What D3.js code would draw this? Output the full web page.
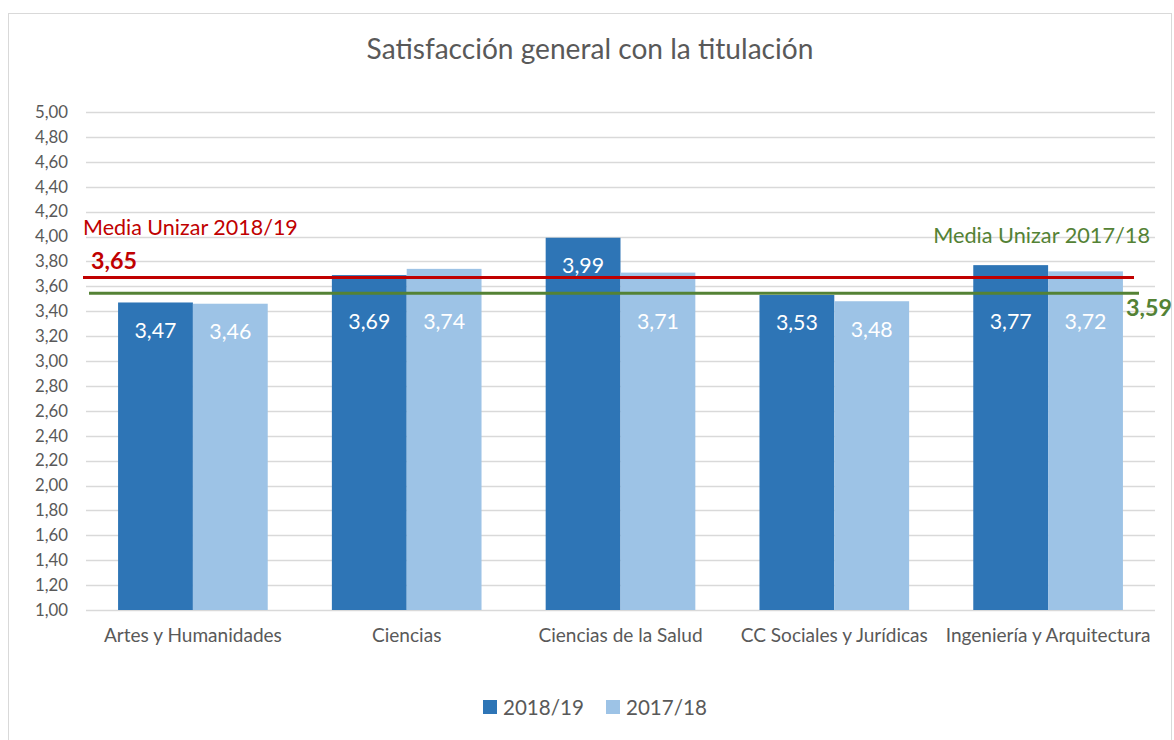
<!DOCTYPE html>
<html>
<head>
<meta charset="utf-8">
<script src="https://cdn.jsdelivr.net/npm/d3@7"></script>
<style>
  body{margin:0;background:#fff}
  text{font-family:Lato, "Open Sans", sans-serif}
</style>
</head>
<body>
<div id="chart"></div>
<script>
// data
var categories = ['Artes y Humanidades','Ciencias','Ciencias de la Salud','CC Sociales y Jurídicas','Ingeniería y Arquitectura']
var seriesNames = ['2018/19','2017/18']
var values2018 = [3.47, 3.69, 3.99, 3.53, 3.77]
var values2017 = [3.46, 3.74, 3.71, 3.48, 3.72]
var yTicks = [1,1.2,1.4,1.6,1.8,2,2.2,2.4,2.6,2.8,3,3.2,3.4,3.6,3.8,4,4.2,4.4,4.6,4.8,5]
var meanLabels = ['Media Unizar 2018/19','Media Unizar 2017/18']
var meanValues = [3.65, 3.59]       // printed values
var meanDrawnAt = [3.67, 3.545]     // where the lines sit on the picture

var W=1174, H=740
var colors=['#2e75b6','#9dc3e6']
var lineColors=['#c00000','#548235']
var grey='#595959'

var svg=d3.select('#chart').append('svg')
    .attr('width',W).attr('height',H)

svg.append('rect')
    .attr('x',8.5).attr('y',13.5)
    .attr('width',1163).attr('height',740)
    .attr('fill','#fff').attr('stroke','#d9d9d9')

var loc=d3.formatLocale({decimal:',',thousands:'.',grouping:[3],currency:['','']})
var fmt=loc.format('.2f')

// fit font-size so a sample string gets a given width
function fit(sel, w){
    var len=sel.node().getComputedTextLength()
    var fs=parseFloat(sel.attr('font-size'))
    var nfs=fs*w/len
    sel.attr('font-size',nfs)
    return nfs
}

var x=d3.scaleBand().domain(categories).range([86,1155]).padding(0)
var bw=x.bandwidth()
var x1=d3.scaleBand().domain(seriesNames).range([bw*0.15,bw*0.85]).padding(0)
var y=d3.scaleLinear().domain([1,5]).range([610,112])

// title
var title=svg.append('text')
    .attr('x',590).attr('y',59)
    .attr('text-anchor','middle')
    .attr('font-size',24).attr('fill',grey)
    .text('Satisfacción general con la titulación')
fit(title,447)

// grid
svg.append('g').selectAll('line').data(yTicks).enter().append('line')
    .attr('x1',86).attr('x2',1155)
    .attr('y1',function(d){return Math.round(y(d))+0.5})
    .attr('y2',function(d){return Math.round(y(d))+0.5})
    .attr('stroke','#d9d9d9').attr('stroke-width',1.3)

// y axis labels
var yl=svg.append('g').selectAll('text').data(yTicks).enter().append('text')
    .attr('x',68)
    .attr('y',function(d){return y(d)})
    .attr('dy','0.35em')
    .attr('text-anchor','end')
    .attr('font-size',15).attr('fill',grey)
    .text(function(d){return fmt(d)})
var fsY=fit(d3.select(yl.nodes()[yTicks.length-1]),33)
yl.attr('font-size',fsY)

// bars
var rows=categories.map(function(c,i){
    return {cat:c, vals:[{s:seriesNames[0],v:values2018[i],k:0},{s:seriesNames[1],v:values2017[i],k:1}]}
})
var g=svg.selectAll('g.cat').data(rows).enter().append('g')
    .attr('class','cat')
    .attr('transform',function(d){return 'translate('+x(d.cat)+',0)'})
g.selectAll('rect').data(function(d){return d.vals}).enter().append('rect')
    .attr('x',function(d){return x1(d.s)})
    .attr('width',x1.bandwidth())
    .attr('y',function(d){return y(d.v)})
    .attr('height',function(d){return y(1)-y(d.v)})
    .attr('fill',function(d){return colors[d.k]})

// category labels
var cl=svg.append('g').selectAll('text').data(categories).enter().append('text')
    .attr('x',function(d){return x(d)+bw/2})
    .attr('y',642)
    .attr('text-anchor','middle')
    .attr('font-size',18).attr('fill',grey)
    .text(function(d){return d})
var fsC=fit(d3.select(cl.nodes()[0]),178)
cl.attr('font-size',fsC)

// mean lines
var yRed=y(meanDrawnAt[0]), yGreen=y(meanDrawnAt[1])
svg.append('line')
    .attr('x1',x.range()[0]-3).attr('x2',x.range()[1]-21)
    .attr('y1',yRed).attr('y2',yRed)
    .attr('stroke',lineColors[0]).attr('stroke-width',3)
svg.append('line')
    .attr('x1',x.range()[0]+3).attr('x2',x.range()[1]-16)
    .attr('y1',yGreen).attr('y2',yGreen)
    .attr('stroke',lineColors[1]).attr('stroke-width',3)

// data labels, moved below the lines when they would cross them
var dl=g.selectAll('text.val').data(function(d){return d.vals}).enter().append('text')
    .attr('class','val')
    .attr('x',function(d){return x1(d.s)+x1.bandwidth()/2})
    .attr('y',function(d){
        var ly=y(d.v)+28
        if(ly+10>yRed && ly-10<yGreen) ly=yGreen+28
        return ly
    })
    .attr('dy','0.35em')
    .attr('text-anchor','middle')
    .attr('font-size',22).attr('fill','#fff')
    .text(function(d){return fmt(d.v)})
var fsD=fit(d3.select(dl.nodes()[0]),42)
dl.attr('font-size',fsD)

// mean annotations
var t1=svg.append('text').attr('x',83).attr('y',235)
    .attr('font-size',19).attr('fill',lineColors[0])
    .text(meanLabels[0])
fit(t1,215)
var v1=svg.append('text').attr('x',91).attr('y',269)
    .attr('font-size',22).attr('font-weight','bold').attr('fill',lineColors[0])
    .text(fmt(meanValues[0]))
fit(v1,46)
var t2=svg.append('text').attr('x',1150).attr('y',243)
    .attr('text-anchor','end')
    .attr('font-size',19).attr('fill',lineColors[1])
    .text(meanLabels[1])
fit(t2,217)
var v2=svg.append('text').attr('x',1126).attr('y',316)
    .attr('font-size',22).attr('font-weight','bold').attr('fill',lineColors[1])
    .text(fmt(meanValues[1]))
fit(v2,46)

// legend
var lg=svg.append('g').selectAll('g').data(seriesNames).enter().append('g')
    .attr('transform',function(d,i){return 'translate('+(483+i*123)+',700)'})
lg.append('rect').attr('width',14).attr('height',14)
    .attr('fill',function(d,i){return colors[i]})
var lt=lg.append('text').attr('x',20).attr('y',15)
    .attr('font-size',19).attr('fill',grey)
    .text(function(d){return d})
var fsL=fit(d3.select(lt.nodes()[0]),81)
lt.attr('font-size',fsL)
</script>
</body>
</html>
